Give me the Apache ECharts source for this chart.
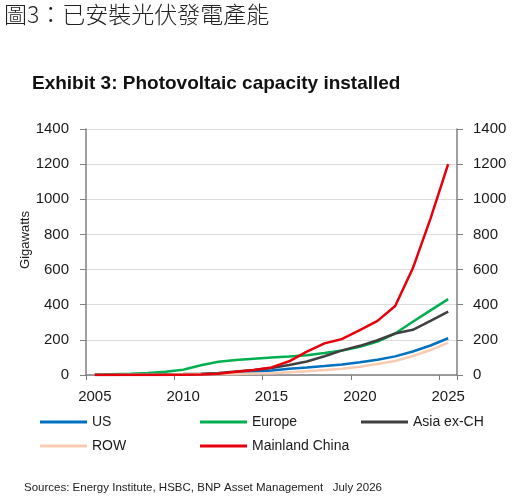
<!DOCTYPE html>
<html>
<head>
    <meta charset="utf-8">
    <title>Photovoltaic capacity installed</title>
    <script src="https://cdn.jsdelivr.net/npm/echarts@6.0.0/dist/echarts.min.js"></script>
    <style>
        html, body { margin: 0; padding: 0; background: #fff; }
        #chart { width: 516px; height: 502px; }
    </style>
</head>
<body>
<div id="chart"></div>
<script type="text/javascript">
    // 数据（读自原图，单位 GW）
    var years = ['2005', '2006', '2007', '2008', '2009', '2010', '2011', '2012', '2013', '2014', '2015',
                 '2016', '2017', '2018', '2019', '2020', '2021', '2022', '2023', '2024', '2025'];
    var usData     = [0.5, 0.6, 0.8, 1.2, 1.6, 2.5, 4.4, 7.7, 12, 18, 25, 36, 43, 51, 60, 73, 87, 106, 134, 168, 209];
    var europeData = [2, 4, 7, 12, 19, 30, 55, 75, 85, 93, 99, 105, 113, 125, 139, 160, 190, 236, 303, 368, 432];
    var asiaData   = [1.5, 2, 2.5, 3, 4, 5, 7, 12, 20, 28, 40, 57, 77, 107, 140, 166, 198, 236, 257, 308, 361];
    var rowData    = [0.5, 0.7, 1, 1.5, 2, 3, 4, 5, 6, 8, 10, 15, 21, 28, 36, 47, 63, 80, 108, 142, 184];
    var chinaData  = [0.1, 0.1, 0.1, 0.2, 0.4, 1, 3, 7, 18, 28, 43, 78, 133, 180, 205, 256, 308, 393, 607, 890, 1200];
    var yTicks = { min: 0, max: 1400, interval: 200 };

    var names  = ['US', 'Europe', 'Asia ex-CH', 'ROW', 'Mainland China'];
    var values = [usData, europeData, asiaData, rowData, chinaData];
    var colors = ['#0070c0', '#00b050', '#404040', '#f9cbb3', '#e5000c'];
    // 图例位置：两行三列
    var legendPos = [[40, 415], [200, 415], [361, 415], [40, 439], [200, 439]];

    var font = 'Arial, "Liberation Sans", sans-serif';
    var textColor = '#1a1a1a';
    var axisGrey = '#808080';

    var myChart = echarts.init(document.getElementById('chart'));

    var legends = names.map(function (n, i) {
        return {
            data: [n],
            left: legendPos[i][0],
            top: legendPos[i][1],
            padding: 0,
            icon: 'rect',
            itemWidth: 47,
            itemHeight: 3,
            textStyle: { fontFamily: font, fontSize: 14, color: textColor },
            selectedMode: false
        };
    });

    var series = names.map(function (n, i) {
        return {
            name: n,
            type: 'line',
            data: values[i],
            symbol: 'none',
            color: colors[i],
            lineStyle: { width: 2.5, color: colors[i] },
            z: 2 + i
        };
    });

    function yAxisCfg(pos, margin) {
        return {
            type: 'value',
            position: pos,
            min: yTicks.min,
            max: yTicks.max,
            interval: yTicks.interval,
            axisLine: { show: true, lineStyle: { color: axisGrey, width: 1.5 } },
            axisTick: { show: true, length: 6, lineStyle: { color: axisGrey } },
            axisLabel: {
                fontFamily: font, fontSize: 15, color: textColor, margin: margin,
                formatter: function (v) { return String(v); }
            },
            splitLine: { show: pos === 'left', lineStyle: { color: '#dcdcdc', width: 1 } }
        };
    }

    var left = yAxisCfg('left', 17);
    left.name = 'Gigawatts';
    left.nameLocation = 'middle';
    left.nameRotate = 90;
    left.nameGap = 54;
    left.nameMoveOverlap = false;
    // 名称略微上移
    left.nameTextStyle = { fontFamily: font, fontSize: 13, color: textColor, padding: [0, 0, 0, 24] };

    myChart.setOption({
        animation: false,
        title: [
            {
                text: '圖3：已安裝光伏發電產能',
                left: 4, top: 3, padding: 0,
                textStyle: { fontFamily: '"Noto Sans CJK TC", sans-serif', fontSize: 23, fontWeight: 300, color: '#222' }
            },
            {
                text: 'Exhibit 3: Photovoltaic capacity installed',
                left: 32, top: 74, padding: 0,
                textStyle: { fontFamily: font, fontSize: 19, fontWeight: 'bold', color: '#111' }
            },
            {
                text: 'Sources: Energy Institute, HSBC, BNP Asset Management   July 2026',
                left: 24, top: 482, padding: 0,
                textStyle: { fontFamily: font, fontSize: 11.5, fontWeight: 'normal', color: '#222' }
            }
        ],
        legend: legends,
        grid: { left: 86, right: 59, top: 129, bottom: 127 },
        xAxis: {
            type: 'category',
            data: years,
            boundaryGap: true,
            axisLine: { lineStyle: { color: axisGrey, width: 1.5 } },
            axisTick: { show: true, interval: 4, length: 5, lineStyle: { color: axisGrey } },
            axisLabel: { interval: 4, fontFamily: font, fontSize: 15, color: textColor, margin: 14 }
        },
        yAxis: [left, yAxisCfg('right', 16)],
        series: series
    });
</script>
</body>
</html>
